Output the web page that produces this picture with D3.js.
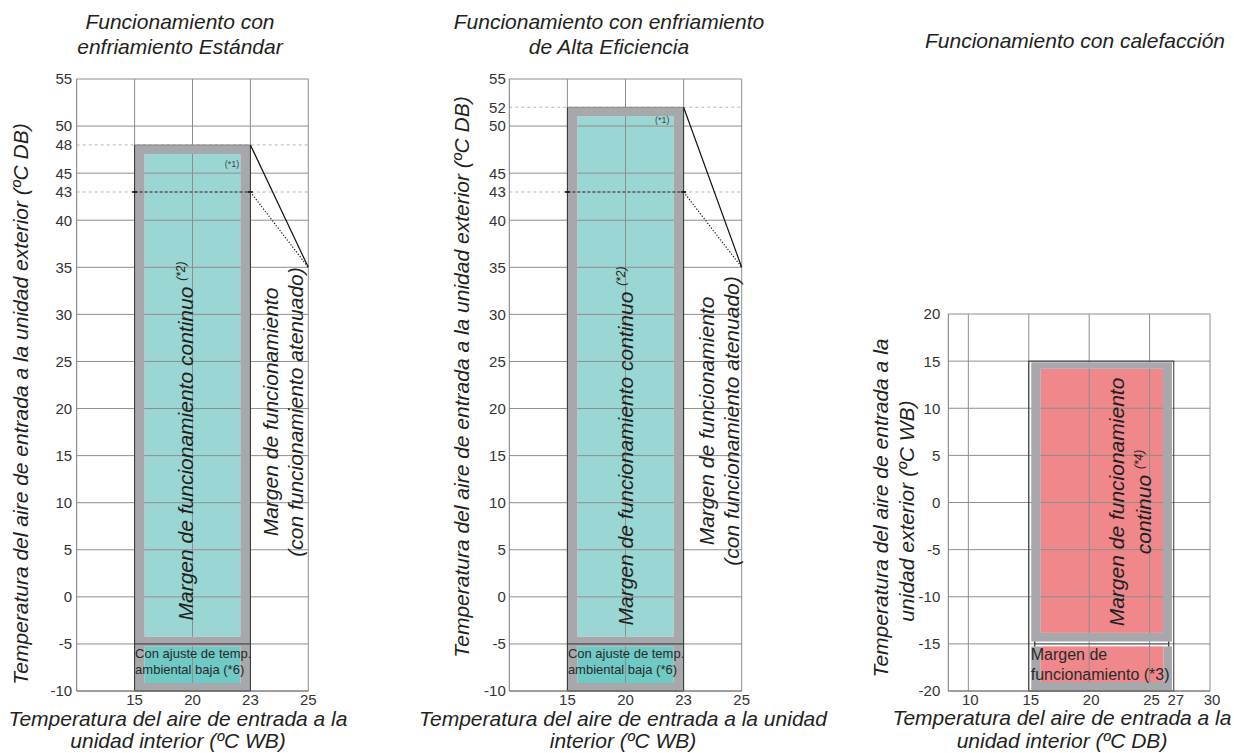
<!DOCTYPE html>
<html>
<head>
<meta charset="utf-8">
<script src="https://cdn.jsdelivr.net/npm/d3@7"></script>
<style>
  html, body { margin: 0; padding: 0; background: #fff; }
  svg { display: block; }
</style>
</head>
<body>
<script>
// ---------------- DATA ----------------
// Cooling charts (indoor WB, outdoor DB)
const coolXStart = 10;                 // unlabeled left edge of the cooling x axis
const coolXTicks = [15, 20, 23, 25];
const coolYDomain = [-10, 55];
const coolYGrid = [55, 50, 45, 40, 35, 30, 25, 20, 15, 10, 5, 0, -5, -10];
const stdYTicks = [55, 50, 48, 45, 43, 40, 35, 30, 25, 20, 15, 10, 5, 0, -5, -10];
const heYTicks  = [55, 52, 50, 45, 43, 40, 35, 30, 25, 20, 15, 10, 5, 0, -5, -10];
const coolIndoorRange = [15, 23];
const stdOutdoorRange = [-10, 48];
const heOutdoorRange  = [-10, 52];
const coolLowAmbientLimit = -5;
const coolAttenuatedStart = 43;
const coolAttenuatedEnd = [25, 35];

// Heating chart (indoor DB, outdoor WB)
const heatXDomain = [8.34, 30];
const heatXTicks = [10, 15, 20, 25, 27, 30];
const heatXGrid  = [10, 15, 20, 25, 30];
const heatYDomain = [-20, 20];
const heatYTicks = [20, 15, 10, 5, 0, -5, -10, -15, -20];
const heatIndoorRange = [15, 27];
const heatOutdoorRange = [-20, 15];
const heatContinuousLimit = -15;

// Texts
const titleStd = ["Funcionamiento con", "enfriamiento Estándar"];
const titleHE = ["Funcionamiento con enfriamiento", "de Alta Eficiencia"];
const titleHeat = ["Funcionamiento con calefacción"];
const yTitleCool = "Temperatura del aire de entrada a la unidad exterior (ºC DB)";
const yTitleHeat = ["Temperatura del aire de entrada a la", "unidad exterior (ºC WB)"];
const xTitleStd = ["Temperatura del aire de entrada a la", "unidad interior (ºC WB)"];
const xTitleHE = ["Temperatura del aire de entrada a la unidad", "interior (ºC WB)"];
const xTitleHeat = ["Temperatura del aire de entrada a la", "unidad interior (ºC DB)"];
const contLabel = ["Margen de funcionamiento continuo", "(*2)"];
const attLabel = ["Margen de funcionamiento", "(con funcionamiento atenuado)"];
const lowAmbLabel = ["Con ajuste de temp.", "ambiental baja (*6)"];
const heatContLabel = ["Margen de funcionamiento", "continuo", "(*4)"];
const heatLowLabel = ["Margen de", "funcionamiento (*3)"];
const note1 = "(*1)";

// ---------------- STYLE ----------------
const FONT = "'Liberation Sans', Arial, Helvetica, sans-serif";
const TXT = "#231f20";
const GRID = "#8e8e8e";
const GRAY = "#a7a8ab";
const TEAL = "#9ad6d4";
const TEAL2 = "#6fc9c4";
const RED = "#f0878b";
const XTICK_Y = 704.5;

const svg = d3.select("body").append("svg")
  .attr("width", 1234).attr("height", 753)
  .style("font-family", FONT);

function rotText(g, x, y, size) {
  return g.append("text")
    .attr("transform", `translate(${x},${y}) rotate(-90)`)
    .attr("text-anchor", "middle")
    .attr("font-size", size)
    .attr("font-style", "italic")
    .attr("fill", TXT);
}

function hText(g, x, y, str, size, opts = {}) {
  return g.append("text")
    .attr("x", x).attr("y", y)
    .attr("text-anchor", opts.anchor || "middle")
    .attr("font-size", size)
    .attr("font-style", opts.italic === false ? "normal" : "italic")
    .attr("fill", opts.fill || TXT)
    .text(str);
}

function framePath(outer, holes) {
  const r = (a) => `M${a[0]},${a[1]}H${a[2]}V${a[3]}H${a[0]}Z`;
  return r(outer) + holes.map(r).join("");
}

// ---------------- COOLING CHART ----------------
function drawCooling(o) {
  const g = svg.append("g");
  const n = coolXTicks.length;
  const x = d3.scaleLinear()
    .domain([coolXStart, ...coolXTicks])
    .range(d3.range(n + 1).map(i => o.left + i * (o.right - o.left) / n));
  const y = d3.scaleLinear().domain(coolYDomain).range([691, 79]);

  const xL = x(coolIndoorRange[0]), xR = x(coolIndoorRange[1]);
  const yTop = y(o.outdoor[1]), yBot = y(o.outdoor[0]);
  const ySplit = y(coolLowAmbientLimit);
  const upperHole = [xL + 10, yTop + 9, xR - 10, ySplit - 7.5];
  const lowerHole = [xL + 10, ySplit + 2.5, xR - 10, yBot - 8];

  // fills
  g.append("rect").attr("x", upperHole[0]).attr("y", upperHole[1])
    .attr("width", upperHole[2] - upperHole[0]).attr("height", upperHole[3] - upperHole[1]).attr("fill", TEAL);
  g.append("rect").attr("x", lowerHole[0]).attr("y", lowerHole[1])
    .attr("width", lowerHole[2] - lowerHole[0]).attr("height", lowerHole[3] - lowerHole[1]).attr("fill", TEAL2);

  // grid
  g.selectAll(".hg").data(coolYGrid).join("line")
    .attr("x1", o.left).attr("x2", o.right)
    .attr("y1", d => y(d)).attr("y2", d => y(d))
    .attr("stroke", GRID).attr("stroke-width", 1);
  g.selectAll(".vg").data(coolXTicks).join("line")
    .attr("x1", d => x(d)).attr("x2", d => x(d))
    .attr("y1", y(coolYDomain[1])).attr("y2", y(coolYDomain[0]))
    .attr("stroke", GRID).attr("stroke-width", 1);
  // light dashed reference levels
  g.selectAll(".ref").data([o.outdoor[1], coolAttenuatedStart]).join("line")
    .attr("x1", o.left).attr("x2", o.right)
    .attr("y1", d => y(d)).attr("y2", d => y(d))
    .attr("stroke", "#b5b5b5").attr("stroke-width", 1).attr("stroke-dasharray", "3,3");

  // gray frame
  g.append("path")
    .attr("d", framePath([xL, yTop, xR, yBot], [upperHole, lowerHole]))
    .attr("fill", GRAY).attr("fill-rule", "evenodd");
  // outline
  g.append("path")
    .attr("d", `M${xL},${yTop}V${yBot}H${xR}V${yTop}`)
    .attr("fill", "none").attr("stroke", "#333").attr("stroke-width", 1);
  g.append("line").attr("x1", xL).attr("x2", xR).attr("y1", yTop).attr("y2", yTop)
    .attr("stroke", "#777").attr("stroke-width", 0.8);
  g.append("line").attr("x1", xL).attr("x2", xR).attr("y1", ySplit).attr("y2", ySplit)
    .attr("stroke", "#333").attr("stroke-width", 1);

  // axis lines
  g.append("line").attr("x1", o.left).attr("x2", o.left)
    .attr("y1", y(coolYDomain[1])).attr("y2", y(coolYDomain[0])).attr("stroke", "#777");
  g.append("line").attr("x1", o.left).attr("x2", o.right)
    .attr("y1", y(coolYDomain[0])).attr("y2", y(coolYDomain[0])).attr("stroke", "#777");

  // dashed 43 level across range
  const y43 = y(coolAttenuatedStart);
  g.append("line").attr("x1", xL).attr("x2", xR).attr("y1", y43).attr("y2", y43)
    .attr("stroke", "#222").attr("stroke-width", 1.1).attr("stroke-dasharray", "3,2");
  [xL, xR].forEach(px => g.append("line").attr("x1", px - 2.5).attr("x2", px + 2.5)
    .attr("y1", y43).attr("y2", y43).attr("stroke", "#111").attr("stroke-width", 1.6));

  // attenuated limit lines
  g.append("line").attr("x1", xR).attr("y1", yTop)
    .attr("x2", x(coolAttenuatedEnd[0])).attr("y2", y(coolAttenuatedEnd[1]))
    .attr("stroke", "#111").attr("stroke-width", 1.2);
  g.append("line").attr("x1", xR).attr("y1", y43)
    .attr("x2", x(coolAttenuatedEnd[0])).attr("y2", y(coolAttenuatedEnd[1]))
    .attr("stroke", "#111").attr("stroke-width", 1.2).attr("stroke-dasharray", "1.2,1.8");

  // tick labels
  g.selectAll(".yt").data(o.yTicks).join("text")
    .attr("x", o.left - o.yLabGap).attr("y", d => y(d)).attr("dy", "0.36em")
    .attr("text-anchor", "end").attr("font-size", 15).attr("fill", "#333")
    .text(d => d);
  g.selectAll(".xt").data(coolXTicks).join("text")
    .attr("x", d => x(d)).attr("y", XTICK_Y)
    .attr("text-anchor", "middle").attr("font-size", 15).attr("fill", "#333")
    .text(d => d);

  // titles
  o.title.forEach((t, i) => hText(g, o.titleX, 29 + i * 25, t, 21));
  o.xTitle.forEach((t, i) => hText(g, o.xTitleX, 726 + i * 22, t, 21));
  rotText(g, o.yTitleX, o.yTitleY, 21).text(yTitleCool);

  // note (*1)
  hText(g, x(o.note1Pos[0]), y(o.note1Pos[1]), note1, 9, { italic: false, fill: "#444" });

  // continuous label
  const t1 = rotText(g, o.contX, o.contY, 21);
  t1.append("tspan").text(contLabel[0] + " ");
  t1.append("tspan").attr("font-size", 12).attr("dy", -8).text(contLabel[1]);

  // attenuated label
  rotText(g, o.attX1, o.attY, 21).text(attLabel[0]);
  rotText(g, o.attX2, o.attY, 21).text(attLabel[1]);

  // low ambient label
  lowAmbLabel.forEach((t, i) =>
    hText(g, xL + 0.5, o.lowY + i * 16.5, t, 13, { anchor: "start", italic: false, fill: "#2a2a2a" }));
}

drawCooling({
  left: 76.7, right: 308.3, outdoor: stdOutdoorRange, yTicks: stdYTicks, yLabGap: 4.5,
  title: titleStd, titleX: 180, xTitle: xTitleStd, xTitleX: 178,
  yTitleX: 28, yTitleY: 404,
  note1Pos: [22.05, 45.7],
  contX: 193, contY: 441, attX1: 278, attX2: 303, attY: 412,
  lowY: 657.5
});
drawCooling({
  left: 509.3, right: 741.7, outdoor: heOutdoorRange, yTicks: heYTicks, yLabGap: 3.5,
  title: titleHE, titleX: 609, xTitle: xTitleHE, xTitleX: 623,
  yTitleX: 469, yTitleY: 377,
  note1Pos: [21.9, 50.3],
  contX: 633, contY: 446, attX1: 714, attX2: 739, attY: 421,
  lowY: 657.5
});

// ---------------- HEATING CHART ----------------
(function drawHeating() {
  const g = svg.append("g");
  const left = 948.3, right = 1210;
  const x = d3.scaleLinear().domain(heatXDomain).range([left, right]);
  const y = d3.scaleLinear().domain(heatYDomain).range([691, 314]);

  const xL = x(heatIndoorRange[0]), xR = x(heatIndoorRange[1]);
  const yTop = y(heatOutdoorRange[1]), yBot = y(heatOutdoorRange[0]);
  const ySplit = y(heatContinuousLimit);

  const upperFrame = [xL + 2.5, yTop + 1, xR - 1.8, ySplit - 2.5];
  const upperHole = [xL + 12, yTop + 7.5, xR - 10.8, ySplit - 11];
  const lowerFrame = [xL + 2.5, ySplit + 2.5, xR - 1.8, yBot - 1];
  const lowerHole = [xL + 12, ySplit + 2.5, xR - 10.2, yBot - 9];

  [upperHole, lowerHole].forEach(h => g.append("rect")
    .attr("x", h[0]).attr("y", h[1]).attr("width", h[2] - h[0]).attr("height", h[3] - h[1])
    .attr("fill", RED));

  g.selectAll(".hg").data(heatYTicks).join("line")
    .attr("x1", left).attr("x2", right)
    .attr("y1", d => y(d)).attr("y2", d => y(d))
    .attr("stroke", GRID).attr("stroke-width", 1);
  g.selectAll(".vg").data(heatXGrid).join("line")
    .attr("x1", d => x(d)).attr("x2", d => x(d))
    .attr("y1", y(heatYDomain[1])).attr("y2", y(heatYDomain[0]))
    .attr("stroke", GRID).attr("stroke-width", 1);

  g.append("path").attr("d", framePath(upperFrame, [upperHole]))
    .attr("fill", GRAY).attr("fill-rule", "evenodd");
  g.append("path").attr("d", framePath(lowerFrame, [lowerHole]))
    .attr("fill", GRAY).attr("fill-rule", "evenodd");

  g.append("rect").attr("x", xL).attr("y", yTop).attr("width", xR - xL).attr("height", yBot - yTop)
    .attr("fill", "none").attr("stroke", "#333").attr("stroke-width", 1);
  [xL + 6, xR - 5].forEach(px => g.append("line")
    .attr("x1", px).attr("x2", px).attr("y1", ySplit - 2.5).attr("y2", ySplit + 2.5)
    .attr("stroke", "#222").attr("stroke-width", 1.2));
  g.append("line").attr("x1", xL + 6).attr("x2", xR - 5).attr("y1", ySplit).attr("y2", ySplit)
    .attr("stroke", "#555").attr("stroke-width", 1);

  g.append("line").attr("x1", left).attr("x2", left)
    .attr("y1", y(heatYDomain[1])).attr("y2", y(heatYDomain[0])).attr("stroke", "#777");
  g.append("line").attr("x1", left).attr("x2", right)
    .attr("y1", y(heatYDomain[0])).attr("y2", y(heatYDomain[0])).attr("stroke", "#777");

  g.selectAll(".yt").data(heatYTicks).join("text")
    .attr("x", left - 8).attr("y", d => y(d)).attr("dy", "0.36em")
    .attr("text-anchor", "end").attr("font-size", 15).attr("fill", "#333")
    .text(d => d);
  g.selectAll(".xt").data(heatXTicks).join("text")
    .attr("x", d => x(d) + 2).attr("y", XTICK_Y)
    .attr("text-anchor", "middle").attr("font-size", 15).attr("fill", "#333")
    .text(d => d);

  titleHeat.forEach((t, i) => hText(g, 1075, 48 + i * 25, t, 21));
  xTitleHeat.forEach((t, i) => hText(g, 1062, 725 + i * 22.5, t, 21));
  rotText(g, 888, 508, 21).text(yTitleHeat[0]);
  rotText(g, 914, 511, 21).text(yTitleHeat[1]);

  rotText(g, 1124, 502, 21).text(heatContLabel[0]);
  const t2 = rotText(g, 1151, 502, 21);
  t2.append("tspan").text(heatContLabel[1] + " ");
  t2.append("tspan").attr("font-size", 12).attr("dy", -8).text(heatContLabel[2]);

  heatLowLabel.forEach((t, i) =>
    hText(g, xL + 2, 660 + i * 19.5, t, 16, { anchor: "start", italic: false, fill: "#2a2a2a" }));
})();
</script>
</body>
</html>
